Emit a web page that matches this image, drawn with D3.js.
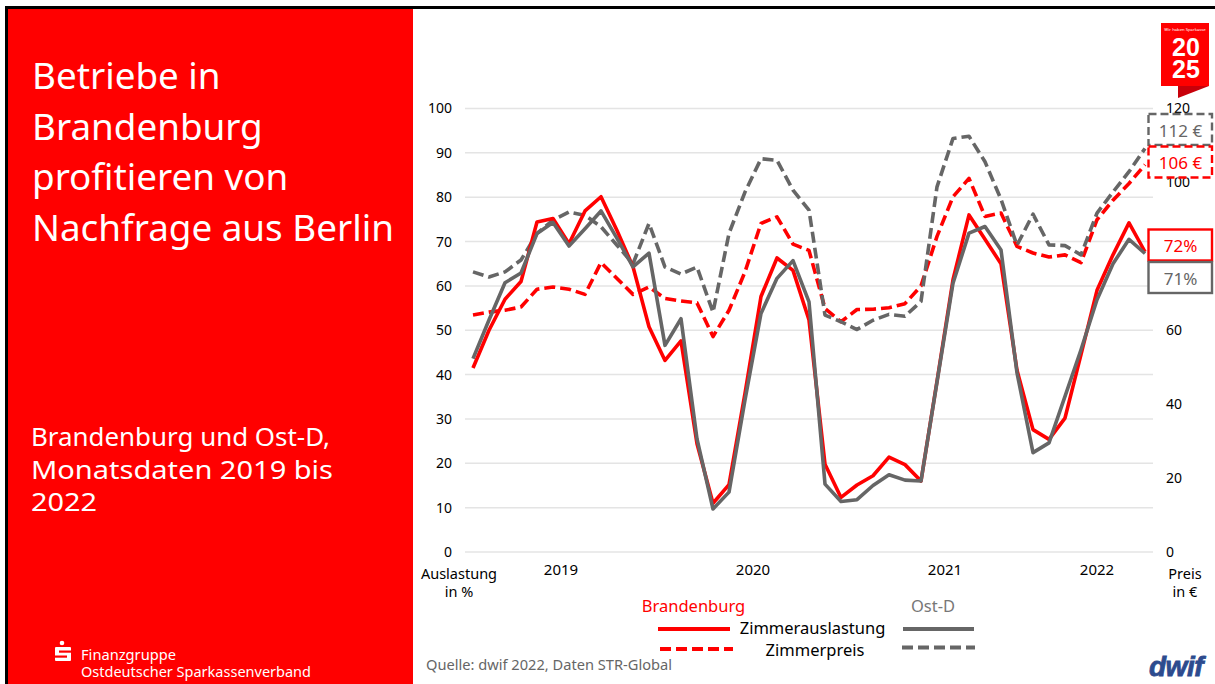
<!DOCTYPE html>
<html>
<head>
<meta charset="utf-8">
<script src="https://cdn.jsdelivr.net/npm/d3@7"></script>
<style>
  html, body { margin: 0; padding: 0; background: #fff; }
  svg { display: block; }
</style>
</head>
<body>
<script>
// ---------------- DATA ----------------
const months = [
  "Jan 19","Feb 19","Mär 19","Apr 19","Mai 19","Jun 19","Jul 19","Aug 19","Sep 19","Okt 19","Nov 19","Dez 19",
  "Jan 20","Feb 20","Mär 20","Apr 20","Mai 20","Jun 20","Jul 20","Aug 20","Sep 20","Okt 20","Nov 20","Dez 20",
  "Jan 21","Feb 21","Mär 21","Apr 21","Mai 21","Jun 21","Jul 21","Aug 21","Sep 21","Okt 21","Nov 21","Dez 21",
  "Jan 22","Feb 22","Mär 22","Apr 22","Mai 22","Jun 22","Jul 22"
];
const years = ["2019","2020","2021","2022"];

// Zimmerauslastung in %
const brbAuslastung = [41.5, 50, 57, 61, 74.4, 75.2, 69.5, 76.9, 80.1, 72.5, 64.3, 50.8,
  43.2, 47.6, 24.4, 11, 15.2, 35.8, 57.6, 66.3, 63.5, 52.3, 19.8, 12.3,
  15.1, 17.2, 21.4, 19.7, 16, 38.5, 61.4, 76, 70.5, 65, 41, 27.6,
  25.4, 30.2, 44.5, 59, 67, 74.2, 67.7];
const ostAuslastung = [43.6, 52.3, 60.7, 62.9, 71.8, 74.3, 69, 72.9, 76.9, 70.7, 64.3, 67.4,
  46.6, 52.6, 25.5, 9.7, 13.5, 34.3, 53.8, 61.7, 65.7, 56.4, 15.3, 11.4,
  11.8, 15, 17.4, 16.2, 16, 38.3, 60.6, 71.9, 73.4, 68.1, 40.4, 22.4,
  24.6, 35.1, 45.6, 56.9, 65, 70.5, 67.3];
// Zimmerpreis in €
const brbPreis = [64.1, 64.9, 65.4, 66.3, 71.1, 71.7, 71.1, 69.7, 78.3, 74, 69.7, 71.7,
  68.6, 67.9, 67.4, 58.3, 65.4, 75.8, 88.9, 90.7, 83.3, 81.6, 65.9, 62.3,
  65.6, 65.7, 66.1, 67.2, 72, 85.4, 96.1, 101.1, 90.8, 91.7, 82.7, 80.9,
  79.8, 80.4, 78.3, 89.9, 95.2, 99.7, 104.8];
const ostPreis = [75.8, 74.4, 75.8, 79, 86.2, 89.8, 92, 91.1, 88, 83, 78, 88.9,
  77.1, 75.2, 77.1, 64.9, 86.2, 97.4, 106.4, 106, 97.9, 92.5, 64.1, 62.3,
  60.2, 62.7, 64.3, 63.8, 67.8, 98.8, 111.9, 112.5, 105.6, 95.4, 83, 91.4,
  83.1, 82.9, 80.4, 91.7, 97.4, 102.9, 109.2];

const leftTicks = [0, 10, 20, 30, 40, 50, 60, 70, 80, 90, 100];
const rightTicks = [0, 20, 40, 60, 100, 120]; // "80" is hidden behind the value boxes in the original
const endLabels = ["112 €", "106 €", "72%", "71%"];

// ---------------- LAYOUT ----------------
const W = 1215, H = 684;
const RED = "#ff0000", GRAY = "#666666";
const FONT = "'Noto Sans', 'Open Sans', sans-serif";

const svg = d3.select("body").append("svg").attr("width", W).attr("height", H);
svg.append("rect").attr("width", W).attr("height", H).attr("fill", "#fff");

// frame + red panel
svg.append("rect").attr("x", 5).attr("y", 6).attr("width", W - 5).attr("height", 3).attr("fill", "#000");
svg.append("rect").attr("x", 5).attr("y", 6).attr("width", 3).attr("height", H - 6).attr("fill", "#000");
svg.append("rect").attr("x", 8).attr("y", 9).attr("width", 405).attr("height", H - 9).attr("fill", RED);

// title (font size fitted so the longest line spans the original width)
const title = ["Betriebe in", "Brandenburg", "profitieren von", "Nachfrage aus Berlin"];
const tt = svg.append("g").selectAll("text").data(title).join("text")
  .attr("x", 32).attr("y", (d, i) => 89 + i * 50.7)
  .attr("fill", "#fff").attr("font-family", FONT).attr("font-size", 33)
  .text(d => d);
const longest = d3.max(tt.nodes(), n => n.getComputedTextLength());
tt.attr("font-size", 33 * 362 / longest);

const sub = ["Brandenburg und Ost-D,", "Monatsdaten 2019 bis", "2022"];
const subW = [299, 302, 66];
svg.append("g").selectAll("text").data(sub).join("text")
  .attr("x", 31).attr("y", (d, i) => 446 + i * 32.5)
  .attr("fill", "#fff").attr("font-family", FONT).attr("font-size", 26)
  .attr("textLength", (d, i) => subW[i]).attr("lengthAdjust", "spacingAndGlyphs")
  .text(d => d);

// footer logo
const fl = svg.append("g");
fl.append("circle").attr("cx", 62).attr("cy", 643).attr("r", 2.3).attr("fill", "#fff");
fl.append("rect").attr("x", 55).attr("y", 647).attr("width", 16).attr("height", 14).attr("rx", 1).attr("fill", "#fff");
fl.append("rect").attr("x", 59).attr("y", 650.5).attr("width", 12).attr("height", 2.2).attr("fill", RED);
fl.append("rect").attr("x", 55).attr("y", 655.5).attr("width", 12).attr("height", 2.2).attr("fill", RED);
const ft = fl.append("text").attr("fill", "#fff").attr("font-family", FONT).attr("font-size", 13.5);
ft.append("tspan").attr("x", 81).attr("y", 659.5)
  .attr("textLength", 95).attr("lengthAdjust", "spacingAndGlyphs").text("Finanzgruppe");
ft.append("tspan").attr("x", 81).attr("y", 677)
  .attr("textLength", 230).attr("lengthAdjust", "spacingAndGlyphs").text("Ostdeutscher Sparkassenverband");

// ---------------- CHART ----------------
const x = d3.scaleBand().domain(d3.range(months.length)).range([465, 1153]).paddingInner(0).paddingOuter(0);
const xc = i => x(i) + x.bandwidth() / 2;
const yL = d3.scaleLinear().domain([0, 100]).range([552, 108.5]);
const yR = d3.scaleLinear().domain([0, 120]).range([552, 108.5]);

// grid
svg.append("g").selectAll("line").data(leftTicks).join("line")
  .attr("x1", 465).attr("x2", 1153)
  .attr("y1", d => yL(d)).attr("y2", d => yL(d))
  .attr("stroke", "#e4e4e4").attr("stroke-width", 1.5);

// axes
const axL = svg.append("g").attr("transform", "translate(465,0)")
  .call(d3.axisLeft(yL).tickValues(leftTicks).tickSize(0).tickPadding(13));
const axR = svg.append("g").attr("transform", "translate(1153,0)")
  .call(d3.axisRight(yR).tickValues(rightTicks).tickSize(0).tickPadding(13));
[axL, axR].forEach(a => {
  a.select(".domain").remove();
  a.selectAll("text").attr("font-family", FONT).attr("font-size", 14).attr("fill", "#000");
});

// year labels (centered on their month groups)
svg.append("g").selectAll("text").data(years).join("text")
  .attr("x", yr => {
    const idx = months.map((m, i) => [m, i]).filter(([m]) => m.endsWith(yr.slice(2))).map(d => d[1]);
    return (x(idx[0]) + x(idx[idx.length - 1]) + x.bandwidth()) / 2;
  })
  .attr("y", 575).attr("text-anchor", "middle")
  .attr("font-family", FONT).attr("font-size", 15).attr("fill", "#000")
  .text(d => d);

// axis titles (two lines each, one text element)
const axisTitles = [
  { x: 459, lines: ["Auslastung", "in %"] },
  { x: 1185, lines: ["Preis", "in €"] }
];
svg.append("g").selectAll("text").data(axisTitles).join("text")
  .attr("font-family", FONT).attr("font-size", 14.5).attr("fill", "#000").attr("text-anchor", "middle")
  .each(function (d) {
    d3.select(this).selectAll("tspan").data(d.lines).join("tspan")
      .attr("x", d.x).attr("y", (l, i) => 579 + i * 18).text(l => l);
  });

// lines
const lineL = d3.line().x((d, i) => xc(i)).y(d => yL(d));
const lineR = d3.line().x((d, i) => xc(i)).y(d => yR(d));
const series = [
  { data: brbPreis, gen: lineR, color: RED, dash: "11,5" },
  { data: ostPreis, gen: lineR, color: GRAY, dash: "11,5" },
  { data: brbAuslastung, gen: lineL, color: RED, dash: null },
  { data: ostAuslastung, gen: lineL, color: GRAY, dash: null }
];
svg.append("g").selectAll("path").data(series).join("path")
  .attr("d", s => s.gen(s.data))
  .attr("fill", "none").attr("stroke", s => s.color).attr("stroke-width", 3.6)
  .attr("stroke-linejoin", "round")
  .attr("stroke-dasharray", s => s.dash);

// end-value boxes
const boxes = [
  { label: endLabels[0], y: 114, color: GRAY, dash: "8,4" },
  { label: endLabels[1], y: 146.5, color: RED, dash: "8,4" },
  { label: endLabels[2], y: 229.5, color: RED, dash: null },
  { label: endLabels[3], y: 262, color: GRAY, dash: null }
];
const bg = svg.append("g").selectAll("g").data(boxes).join("g");
bg.append("rect").attr("x", 1148.5).attr("y", d => d.y).attr("width", 63.5).attr("height", 31)
  .attr("fill", "#fff").attr("stroke", d => d.color).attr("stroke-width", 2.4)
  .attr("stroke-dasharray", d => d.dash);
bg.append("text").attr("x", 1180.5).attr("y", d => d.y + 22.5).attr("text-anchor", "middle")
  .attr("font-family", FONT).attr("font-size", 17).attr("fill", d => d.color).text(d => d.label);

// legend
const lg = svg.append("g").attr("font-family", FONT);
lg.append("text").attr("x", 693.5).attr("y", 612).attr("text-anchor", "middle").attr("font-size", 16.5).attr("fill", RED).text("Brandenburg");
lg.append("text").attr("x", 933).attr("y", 612).attr("text-anchor", "middle").attr("font-size", 16.5).attr("fill", "#777").text("Ost-D");
lg.append("text").attr("x", 812.5).attr("y", 634).attr("text-anchor", "middle").attr("font-size", 16.5).attr("fill", "#000").text("Zimmerauslastung");
lg.append("text").attr("x", 815).attr("y", 655.5).attr("text-anchor", "middle").attr("font-size", 16.5).attr("fill", "#000").text("Zimmerpreis");
const legLines = [
  { x1: 658, x2: 730, y: 629, color: RED, dash: null },
  { x1: 660, x2: 733, y: 649, color: RED, dash: "11,5" },
  { x1: 903, x2: 974, y: 629, color: GRAY, dash: null },
  { x1: 902, x2: 975, y: 647.5, color: GRAY, dash: "11,5" }
];
lg.selectAll("line").data(legLines).join("line")
  .attr("x1", d => d.x1).attr("x2", d => d.x2).attr("y1", d => d.y).attr("y2", d => d.y)
  .attr("stroke", d => d.color).attr("stroke-width", 4).attr("stroke-dasharray", d => d.dash);

// source
svg.append("text").attr("x", 426).attr("y", 670).attr("font-family", FONT).attr("font-size", 14)
  .attr("fill", "#666").attr("textLength", 246).attr("lengthAdjust", "spacingAndGlyphs")
  .text("Quelle: dwif 2022, Daten STR-Global");

// dwif logo
svg.append("text").attr("x", 1176).attr("y", 676).attr("text-anchor", "middle")
  .attr("font-family", "'Liberation Sans', Arial, sans-serif").attr("font-weight", "bold").attr("font-style", "italic")
  .attr("font-size", 28).attr("fill", "#2d4b8e").attr("stroke", "#2d4b8e").attr("stroke-width", 0.8)
  .attr("letter-spacing", -0.5).text("dwif");

// 2025 badge
const bd = svg.append("g");
bd.append("rect").attr("x", 1161).attr("y", 23).attr("width", 48).attr("height", 63).attr("fill", RED);
bd.append("path").attr("d", "M1178,86 L1209,86 L1178,98 Z").attr("fill", "#c8000a");
bd.append("text").attr("x", 1185).attr("y", 31).attr("text-anchor", "middle").attr("font-family", FONT)
  .attr("font-size", 4.2).attr("fill", "#fff").text("Wir haben Sparkasse");
const num = bd.append("text").attr("text-anchor", "middle")
  .attr("font-family", "'Liberation Sans', Arial, sans-serif").attr("font-weight", "bold")
  .attr("font-size", 25).attr("fill", "#fff");
num.selectAll("tspan").data(["20", "25"]).join("tspan")
  .attr("x", 1186).attr("y", (d, i) => 56 + i * 22).text(d => d);
</script>
</body>
</html>
